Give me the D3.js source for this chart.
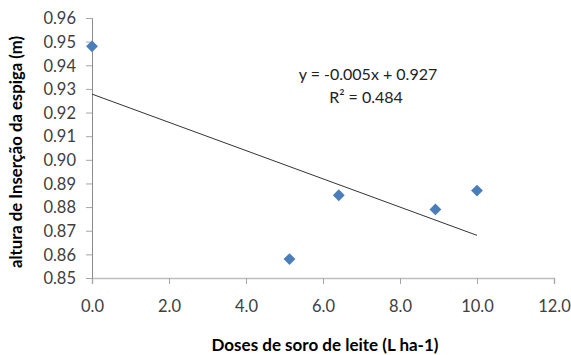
<!DOCTYPE html>
<html>
<head>
<meta charset="utf-8">
<script src="https://cdn.jsdelivr.net/npm/d3@7"></script>
<style>
  body { margin: 0; background: #fff; }
  .axis text { font-family: Lato, 'Open Sans', sans-serif; font-size: 16.5px; fill: #404040; }
</style>
</head>
<body>
<div id="chart"></div>
<script>
// doses (x) and measured height (y)
const doses = [0, 5.13, 6.41, 8.92, 10.0];
const heights = [0.948, 0.858, 0.885, 0.879, 0.887];
const xTicks = [0, 2, 4, 6, 8, 10, 12];
const yTicks = [0.85, 0.86, 0.87, 0.88, 0.89, 0.90, 0.91, 0.92, 0.93, 0.94, 0.95, 0.96];
const eqLabel = 'y = -0.005x + 0.927';
const r2Label = 'R² = 0.484';
const xTitle = 'Doses de soro de leite (L ha-1)';
const yTitle = 'altura de Inserção da espiga (m)';

const width = 571, height = 355;
const margin = { top: 18, right: 17, bottom: 77, left: 92 };

const svg = d3.select('#chart').append('svg')
  .attr('width', width)
  .attr('height', height);

const g = svg.append('g')
  .attr('transform', 'translate(' + margin.left + ',' + margin.top + ')');

const w = width - margin.left - margin.right;
const h = height - margin.top - margin.bottom;

const xScale = d3.scaleLinear().domain([0, 12]).range([0, w]);
const yScale = d3.scaleLinear().domain([0.85, 0.96]).range([h, 0]);

/* ---------- axes ---------- */
const xAxis = g.append('g')
  .attr('class', 'axis axis--x')
  .attr('transform', 'translate(0,' + h + ')')
  .call(d3.axisBottom(xScale).tickValues(xTicks).tickFormat(d3.format('.1f')).tickSize(6).tickPadding(16));
xAxis.select('.domain').attr('stroke', '#bfbfbf').attr('stroke-width', 1.5);
xAxis.selectAll('.tick line').attr('stroke', '#a6a6a6');

const yAxis = g.append('g')
  .attr('class', 'axis axis--y')
  .call(d3.axisLeft(yScale).tickValues(yTicks).tickFormat(d3.format('.2f')).tickSize(6).tickPadding(10));
yAxis.select('.domain').attr('stroke', '#8c8c8c');
yAxis.selectAll('.tick line').attr('stroke', '#a6a6a6');
yAxis.selectAll('.tick text').attr('dy', '0.35em');

/* ---------- linear trend (least squares) ---------- */
const mx = d3.mean(doses), my = d3.mean(heights);
const sxy = d3.sum(doses, (d, i) => (d - mx) * (heights[i] - my));
const sxx = d3.sum(doses, d => (d - mx) * (d - mx));
const slope = sxy / sxx;
const intercept = my - slope * mx;
const ext = d3.extent(doses);

const line = d3.line()
  .x(d => xScale(d))
  .y(d => yScale(intercept + slope * d));

g.append('path')
  .datum(ext)
  .attr('d', line)
  .style('fill', 'none')
  .style('stroke', '#333')
  .style('stroke-width', 1);

/* ---------- points ---------- */
const diamond = d3.symbol().type(d3.symbolSquare).size(70);
g.append('g')
  .selectAll('path')
  .data(doses)
  .enter()
  .append('path')
  .attr('d', diamond)
  .attr('transform', (d, i) => 'translate(' + xScale(d) + ',' + yScale(heights[i]) + ') rotate(45)')
  .style('fill', '#4a7ebb');

/* ---------- labels ---------- */
g.append('text')
  .attr('x', 276)
  .attr('y', 62)
  .attr('text-anchor', 'middle')
  .style('font-family', "Lato, 'Open Sans', sans-serif")
  .style('font-size', '16px')
  .style('fill', '#222')
  .text(eqLabel);

g.append('text')
  .attr('x', 274)
  .attr('y', 85)
  .attr('text-anchor', 'middle')
  .style('font-family', "Lato, 'Open Sans', sans-serif")
  .style('font-size', '16px')
  .style('fill', '#222')
  .text(r2Label);

svg.append('text')
  .attr('x', 325)
  .attr('y', 351)
  .attr('text-anchor', 'middle')
  .style('font-family', "Lato, 'Open Sans', sans-serif")
  .style('font-size', '17px')
  .style('font-weight', 'bold')
  .style('fill', '#000')
  .text(xTitle);

svg.append('text')
  .attr('transform', 'translate(22,152) rotate(-90)')
  .attr('text-anchor', 'middle')
  .style('font-family', "Lato, 'Open Sans', sans-serif")
  .style('font-size', '16.7px')
  .style('font-weight', 'bold')
  .style('fill', '#000')
  .text(yTitle);
</script>
</body>
</html>
